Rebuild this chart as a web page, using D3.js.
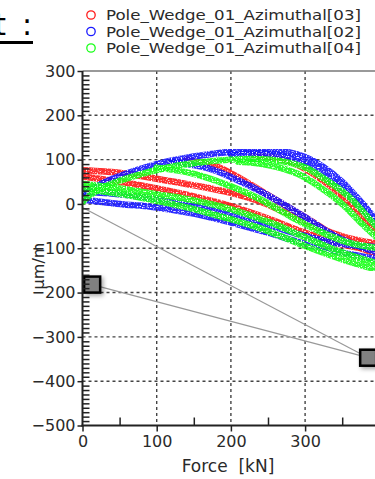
<!DOCTYPE html>
<html><head><meta charset="utf-8">
<script src="https://cdn.jsdelivr.net/npm/d3@7"></script>
<style>
html,body{margin:0;padding:0;background:#fff;}
svg{display:block;font-family:"DejaVu Sans",Verdana,sans-serif;}
</style></head>
<body>
<svg id="c" width="375" height="479"></svg>
<script>
// ---- data ----
const seriesNames = ["Pole_Wedge_01_Azimuthal[03]","Pole_Wedge_01_Azimuthal[02]","Pole_Wedge_01_Azimuthal[04]"];
const seriesColors = ["#ff1a1a","#1a1aff","#1aff1a"];
const yTicks = [-500,-400,-300,-200,-100,0,100,200,300];
const xTicks = [0,100,200,300];
const xMinorTicks = [50,150,250,350];
// red (03) bands
const red1 = [[230,110],[260,104],[290,88],[320,58],[350,18],[380,-35],[400,-70]];
const red2 = [[0,76],[30,73],[60,68],[100,57],[150,42],[200,25],[240,5],[280,-25],[320,-55],[360,-78],[400,-90]];
const red3 = [[140,100],[180,85],[210,60],[240,30],[270,0],[310,-40],[350,-82],[400,-115]];
const red4 = [[0,62],[50,50],[100,35],[150,17],[200,-5],[250,-33],[300,-65],[350,-92],[400,-105]];
// blue (02) bands
const blue1 = [[0,20],[25,45],[50,63],[100,90],[150,107],[200,118],[240,122],[270,119],[300,106],[325,83],[350,50],[375,5],[400,-45]];
const blue2 = [[200,112],[250,113],[290,98],[320,72],[350,32],[380,-18],[400,-55]];
const blue3 = [[120,95],[170,80],[220,45],[260,10],[300,-30],[340,-72],[380,-100],[400,-110]];
const blue4 = [[0,10],[50,0],[100,-8],[150,-22],[200,-42],[250,-65],[300,-90],[350,-110],[400,-125]];
const blue5 = [[0,28],[60,20],[120,5],[180,-15],[240,-42],[290,-68],[340,-88],[400,-98]];
// green (04) bands
const green1 = [[0,5],[15,25],[40,46],[80,68],[120,84],[160,94],[200,100],[240,101],[270,96],[300,82],[330,52],[360,15],[390,-40],[400,-58]];
const green2 = [[210,95],[250,88],[290,68],[320,38],[350,0],[380,-50],[400,-80]];
const green3 = [[100,82],[150,68],[200,40],[240,10],[280,-28],[320,-62],[360,-88],[400,-100]];
const green4 = [[0,45],[50,35],[100,22],[150,8],[200,-12],[250,-40],[300,-75],[350,-110],[400,-135]];
const green5 = [[0,35],[60,20],[120,0],[180,-25],[240,-55],[300,-95],[350,-125],[400,-150]];
// markers and connecting lines
const markers = [[13,-182],[385,-347]];
const guideLines = [[[0,-8],[385,-347]],[[13,-182],[385,-347]]];

const bands = [
  {c:0, pts:[red1,red2,red3,red4]},
  {c:1, pts:[blue1,blue2,blue3,blue4,blue5]},
  {c:2, pts:[green1,green2,green3,green4,green5]}
];

// ---- chart ----
const svg = d3.select("#c");
const x = d3.scaleLinear().domain([0,400]).range([82.5,379.3]);
const y = d3.scaleLinear().domain([-500,300]).range([425.5,71]);
const defs = svg.append("defs");

// speckle texture filter for the scatter bands
const sp = defs.append("filter").attr("id","speck").attr("x","0").attr("y","0").attr("width","1").attr("height","1");
sp.append("feTurbulence").attr("type","fractalNoise").attr("baseFrequency",0.8).attr("numOctaves",1).attr("seed",7).attr("result","n");
sp.append("feColorMatrix").attr("in","n").attr("type","matrix")
  .attr("values","0 0 0 0 0  0 0 0 0 0  0 0 0 0 0  0 0 0 5 -1.3").attr("result","a");
sp.append("feComposite").attr("in","SourceGraphic").attr("in2","a").attr("operator","in");

// title fragment
svg.append("text").attr("x",6).attr("y",35).attr("text-anchor","end")
  .attr("font-size",30).attr("fill","#000").text("Result");
svg.append("text").attr("x",22).attr("y",35)
  .attr("font-size",30).attr("fill","#000").text(":");
svg.append("line").attr("x1",0).attr("x2",33).attr("y1",42.5).attr("y2",42.5)
  .attr("stroke","#000").attr("stroke-width",3);

// legend
const lg = svg.append("g");
seriesNames.forEach((n,i)=>{
  const yy = 15 + i*16.5;
  lg.append("circle").attr("cx",91).attr("cy",yy).attr("r",4.2)
    .attr("fill","none").attr("stroke",seriesColors[i]).attr("stroke-width",1.3);
  lg.append("text").attr("x",106).attr("y",yy+5).attr("font-size",14)
    .attr("textLength",255).attr("lengthAdjust","spacingAndGlyphs")
    .attr("fill","#2a2a2a").text(n);
});

// grid
const grid = svg.append("g").attr("stroke","#444").attr("stroke-width",1.4).attr("stroke-dasharray","3,3");
yTicks.filter(v=>v>-500 && v<300).forEach(v=>{
  grid.append("line").attr("x1",x(0)).attr("x2",375).attr("y1",y(v)).attr("y2",y(v));
});
xTicks.filter(v=>v>0).forEach(v=>{
  grid.append("line").attr("x1",x(v)).attr("x2",x(v)).attr("y1",y(300)).attr("y2",y(-500));
});
// top frame
svg.append("line").attr("x1",x(0)).attr("x2",375).attr("y1",y(300)).attr("y2",y(300))
  .attr("stroke","#777").attr("stroke-width",1.5);

// bands
const line = d3.line().x(d=>x(d[0])).y(d=>y(d[1])).curve(d3.curveCatmullRom);
const plot = svg.append("g").attr("filter","url(#speck)");
bands.forEach(b=>{
  b.pts.forEach(p=>{
    plot.append("path").attr("d",line(p)).attr("fill","none")
      .attr("stroke",seriesColors[b.c]).attr("stroke-width",6.5).attr("stroke-opacity",0.9)
      .attr("stroke-linecap","round");
  });
});

// guide lines
guideLines.forEach(l=>{
  svg.append("line").attr("x1",x(l[0][0])).attr("y1",y(l[0][1]))
    .attr("x2",x(l[1][0])).attr("y2",y(l[1][1]))
    .attr("stroke","#999").attr("stroke-width",1.2);
});

// markers
const f = defs.append("filter").attr("id","sh").attr("x","-50%").attr("y","-50%").attr("width","200%").attr("height","200%");
f.append("feDropShadow").attr("dx",2).attr("dy",2).attr("stdDeviation",2).attr("flood-opacity",0.35);
markers.forEach(m=>{
  svg.append("rect").attr("x",x(m[0])-8).attr("y",y(m[1])-8).attr("width",16).attr("height",16)
    .attr("fill","#808080").attr("stroke","#000").attr("stroke-width",2.5).attr("filter","url(#sh)");
});

// axes
const yMinor = d3.range(-490,300,10).filter(v=>v%100!==0);
const ax = svg.append("g").attr("transform",`translate(${x(0)},0)`)
  .call(d3.axisLeft(y).tickValues(yTicks).tickSize(5).tickFormat(d3.format("d")));
const axm = svg.append("g").attr("transform",`translate(${x(0)},0)`)
  .call(d3.axisRight(y).tickValues(yMinor).tickSize(7).tickFormat(""));
const bx = svg.append("g").attr("transform",`translate(0,${y(-500)})`)
  .call(d3.axisBottom(x).tickValues(xTicks).tickSize(6).tickFormat(d3.format("d")));
const bxm = svg.append("g").attr("transform",`translate(0,${y(-500)})`)
  .call(d3.axisTop(x).tickValues(xMinorTicks).tickSize(8).tickFormat(""));
[ax,axm,bx,bxm].forEach(g=>{
  g.selectAll(".domain").remove();
  g.selectAll(".tick line").attr("stroke","#222").attr("stroke-width",1.5);
  g.selectAll("text").attr("font-family","DejaVu Sans, sans-serif").attr("font-size",16).attr("fill","#2a2a2a");
});
ax.selectAll("text").attr("x",-7);
bx.selectAll("text").attr("y",10);
// axis lines
svg.append("line").attr("x1",x(0)).attr("x2",x(0)).attr("y1",y(300)).attr("y2",y(-500)+1)
  .attr("stroke","#222").attr("stroke-width",2);
svg.append("line").attr("x1",x(0)-1).attr("x2",375).attr("y1",y(-500)).attr("y2",y(-500))
  .attr("stroke","#222").attr("stroke-width",2);

// axis titles
svg.append("text").attr("x",228).attr("y",472).attr("text-anchor","middle")
  .attr("font-size",17).attr("fill","#2a2a2a").attr("xml:space","preserve").text("Force  [kN]");
svg.append("text").attr("transform","translate(44,266) rotate(-90)").attr("text-anchor","middle")
  .attr("font-size",16).attr("fill","#2a2a2a").text("µm/m");
</script>
</body></html>
